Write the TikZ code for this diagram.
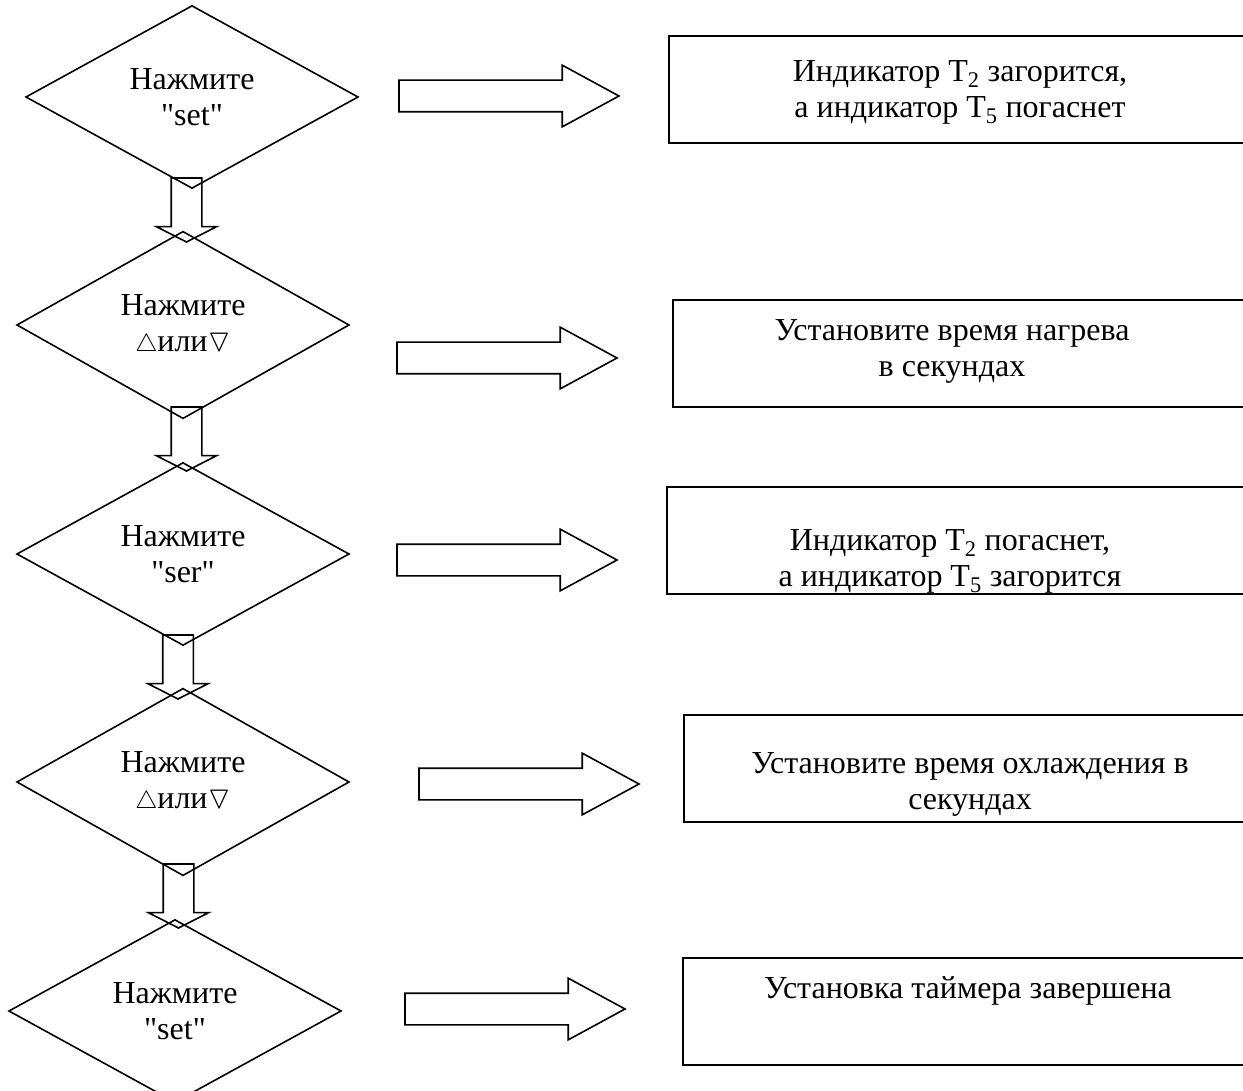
\documentclass[tikz,border=0pt]{standalone}
\usepackage{fontspec}
\setmainfont{Liberation Serif}
\usepackage{amssymb}
\usetikzlibrary{shapes.geometric,shapes.arrows,positioning}
\newcommand\fsz{\fontsize{32pt}{36pt}\selectfont}
\newcommand\qt[1]{\textquotedbl#1\textquotedbl}
\tikzset{
  dmd/.style={draw, diamond, minimum width=332pt, minimum height=164pt, inner sep=0pt, outer sep=0pt, align=center, font=\fsz, line width=1.6pt},
  obox/.style={draw, rectangle, anchor=north west, minimum height=107pt, line width=1.8pt},
  txt/.style={align=center, font=\fsz},
  rarr/.style={draw, single arrow, anchor=tail, minimum height=220pt, inner xsep=0pt, inner ysep=15pt, single arrow head extend=15pt, single arrow tip angle=57, outer sep=0pt, line width=1.6pt},
  darr/.style={draw, single arrow, shape border rotate=270, anchor=tail, minimum height=64pt, inner xsep=14.5pt, inner ysep=0pt, single arrow head extend=15pt, single arrow tip angle=126, outer sep=0pt, line width=1.6pt},
}
\begin{document}
\begin{tikzpicture}[x=1pt,y=-1pt]
\useasboundingbox (0,0) rectangle (1243,1091);

% steps
\node[dmd] (d1) at (192,97) {Нажмите\\\qt{set}};
\node[dmd] (d2) at (183,325) {Нажмите\\$\bigtriangleup$или$\triangledown$};
\node[dmd] (d3) at (183,554) {Нажмите\\\qt{ser}};
\node[dmd] (d4) at (183,782) {Нажмите\\$\bigtriangleup$или$\triangledown$};
\node[dmd] (d5) at (175,1011) {Нажмите\\\qt{set}};

\node[darr] (s1) at (186.5,178) {};
\node[darr] (s2) at (186.5,407) {};
\node[darr] (s3) at (178,635) {};
\node[darr] (s4) at (178.5,864) {};

% results
\node[rarr] (r1) at (399,96) {};
\node[rarr] (r2) at (397,358) {};
\node[rarr] (r3) at (397,560) {};
\node[rarr] (r4) at (419,784) {};
\node[rarr] (r5) at (405,1009) {};

\node[obox, minimum width=590pt] (b1) at (668,35) {};
\node[obox, minimum width=590pt] (b2) at (672,299) {};
\node[obox, minimum width=590pt] (b3) at (666,486) {};
\node[obox, minimum width=590pt] (b4) at (683,714) {};
\node[obox, minimum width=590pt] (b5) at (682,957) {};

\node[txt] (t1) at (960,92) {Индикатор T\textsubscript{2} загорится,\\а индикатор T\textsubscript{5} погаснет};
\node[txt] (t2) at (952,351) {Установите время нагрева\\в секундах};
\node[txt] (t3) at (950,561) {Индикатор T\textsubscript{2} погаснет,\\а индикатор T\textsubscript{5} загорится};
\node[txt] (t4) at (970,784) {Установите время охлаждения в\\секундах};
\node[txt] (t5) at (968,991) {Установка таймера завершена};

\end{tikzpicture}
\end{document}
